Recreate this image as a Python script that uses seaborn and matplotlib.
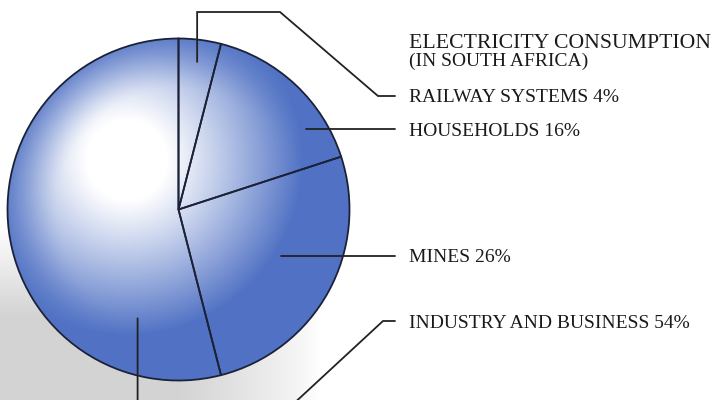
import numpy as np
import matplotlib
matplotlib.use("Agg")
import matplotlib.pyplot as plt
from matplotlib.patches import Circle
import seaborn as sns

# Electricity consumption shares in South Africa (percent)
categories = ["RAILWAY SYSTEMS", "HOUSEHOLDS", "MINES", "INDUSTRY AND BUSINESS"]
shares = [4, 16, 26, 54]
title_lines = ["ELECTRICITY CONSUMPTION", "(IN SOUTH AFRICA)"]

sns.set_theme(style="white")
plt.rcParams["font.family"] = ["Liberation Serif", "DejaVu Serif"]

W, H = 717, 400
fig = plt.figure(figsize=(W / 100, H / 100), dpi=100)
ax = fig.add_axes([0, 0, 1, 1])
ax.set_xlim(0, W)
ax.set_ylim(0, H)
ax.set_aspect("equal")
ax.axis("off")

cx, cy, R = 178.5, 400 - 209.5, 171.0

# soft grey shadow lying under the lower-left of the disc
yy, xx = np.mgrid[0:H, 0:W] + 0.5
ypix = H - yy
fade_down = np.clip((ypix - 225) / 90, 0, 1)
fade_right = np.clip((320 - xx) / 140, 0, 1)
shadow_alpha = np.clip(fade_down * fade_right ** 0.8, 0, 1) * 0.85
shadow = np.zeros((H, W, 4))
shadow[..., :3] = 0.80
shadow[..., 3] = shadow_alpha
ax.imshow(shadow, extent=(0, W, 0, H), origin="lower", zorder=0, interpolation="bilinear")

# shaded blue sphere-like fill: broad white highlight upper-left, blue towards the rim
hx, hy = 127, 400 - 160
d = np.hypot(xx - hx, yy - hy)
t1 = np.clip((d - 40) / 135, 0, 1) ** 1.05
rim = np.hypot(xx - cx, yy - cy) / R
t2 = np.clip((rim - 0.7) / 0.3, 0, 1) ** 1.5
t = 1 - (1 - t1) * (1 - 0.75 * t2)
blue = np.array([0.32, 0.45, 0.77])
white = np.array([1.0, 1.0, 1.0])
fill = white[None, None, :] * (1 - t[..., None]) + blue[None, None, :] * t[..., None]
img = ax.imshow(fill, extent=(0, W, 0, H), origin="lower", zorder=1, interpolation="bilinear")
img.set_clip_path(Circle((cx, cy), R, transform=ax.transData))

# pie outlines drawn over the shaded fill
wedges, _ = ax.pie(
    shares, startangle=90, counterclock=False, center=(cx, cy), radius=R,
    frame=True, wedgeprops=dict(facecolor="none", edgecolor="#1b2238", linewidth=1.3),
)
for w in wedges:
    w.set_zorder(2)
ax.set_xlim(0, W)
ax.set_ylim(0, H)
ax.axis("off")

# wedge angle ranges (degrees, clockwise from 12 o'clock)
cum = np.concatenate([[0], np.cumsum(shares)]) / sum(shares) * 360
ranges = [(90 - cum[i + 1], 90 - cum[i]) for i in range(len(shares))]

def anchor(i, frac, rfrac):
    lo, hi = ranges[i]
    a = np.deg2rad(lo + frac * (hi - lo))
    return cx + rfrac * R * np.cos(a), cy + rfrac * R * np.sin(a)

text_x = 409
line_end = 395
label_y = [400 - 96, 400 - 129, 400 - 256, 400 - 321]
anchors = [anchor(0, 0.5, 0.87), anchor(1, 0.24, 0.88), anchor(2, 0.54, 0.66), anchor(3, 0.82, 0.68)]

lc = dict(color="#222222", linewidth=1.3, zorder=3, solid_joinstyle="miter")
# railway: up, across, then down to its label
ax0, ay0 = anchors[0]
ax.plot([ax0, ax0, 280, 378, line_end], [ay0, 400 - 12, 400 - 12, label_y[0], label_y[0]], **lc)
# households and mines: straight across at label height
for i in (1, 2):
    a_x, _ = anchors[i]
    ax.plot([a_x, line_end], [label_y[i], label_y[i]], **lc)
# industry: drops below the disc, runs right and climbs to its label
ax3, ay3 = anchors[3]
ax.plot([ax3, ax3, 276, 383, line_end], [ay3, -20, -20, label_y[3], label_y[3]], **lc)

for cat, val, y in zip(categories, shares, label_y):
    ax.text(text_x, y - 6.5, f"{cat} {val}%", fontsize=14, color="#1a1a1a",
            ha="left", va="baseline", zorder=4)

ax.text(text_x, 400 - 48, title_lines[0], fontsize=15.7, color="#1a1a1a", ha="left", va="baseline")
ax.text(text_x, 400 - 66, title_lines[1], fontsize=14, color="#1a1a1a", ha="left", va="baseline")

fig.savefig("out.png", dpi=100)
